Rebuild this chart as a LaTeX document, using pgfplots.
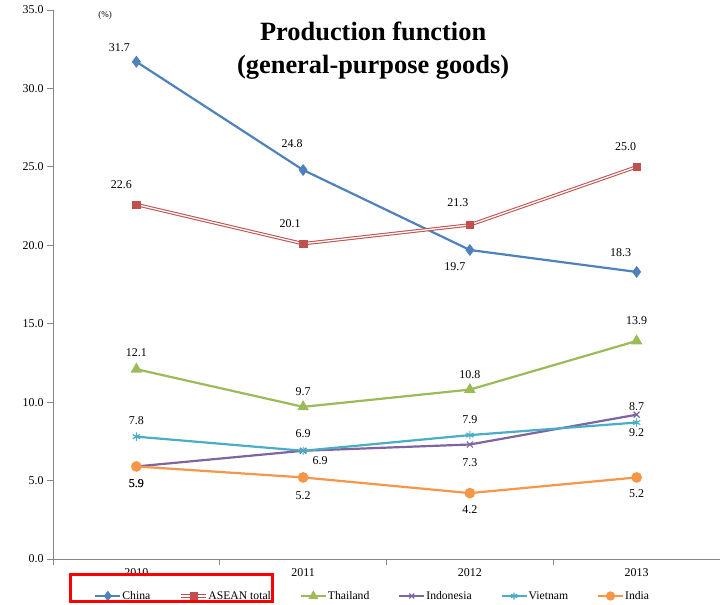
\documentclass[border=0pt]{standalone}
\usepackage{fontspec}
\setmainfont{Liberation Serif}
\usepackage{pgfplots}
\pgfplotsset{compat=1.18}
\definecolor{chinaC}{HTML}{4F81BD}
\definecolor{aseanC}{HTML}{C0504D}
\definecolor{thaiC}{HTML}{9BBB59}
\definecolor{indoC}{HTML}{8064A2}
\definecolor{vietC}{HTML}{4BACC6}
\definecolor{indiaC}{HTML}{F79646}
\definecolor{axisC}{HTML}{868686}
\pgfplotsset{
  lab/.style={
    nodes near coords,
    point meta=explicit symbolic,
    visualization depends on={\thisrow{dx} \as \labdx},
    visualization depends on={\thisrow{dy} \as \labdy},
    every node near coord/.append style={anchor=center, text=black,
      font=\fontsize{12}{14}\selectfont, xshift=\labdx bp, yshift=\labdy bp, inner sep=0pt},
  },
}
\begin{document}
\begin{tikzpicture}
\begin{axis}[
  scale only axis, width=667bp, height=549bp,
  xmin=-0.5, xmax=3.5, ymin=0, ymax=35,
  xtick={-0.5,0.5,1.5,2.5,3.5},
  x tick label as interval,
  xticklabels={2010,2011,2012,2013},
  ytick={0,5,...,35},
  yticklabel style={/pgf/number format/.cd, fixed, fixed zerofill, precision=1, assume math mode=true},
  tick label style={font=\fontsize{12}{14}\selectfont},
  axis x line*=bottom, axis y line*=left,
  axis line style={-, draw=axisC, line width=0.8bp},
  tick style={draw=axisC, line width=0.8bp},
  tick align=outside, major tick length=6bp,
  title={Production function\\(general-purpose goods)},
  title style={font=\bfseries\fontsize{26.5}{33}\selectfont, align=center,
    at={(axis description cs:0.48,0.9154)}, anchor=center},
  clip=false,
  legend columns=-1,
  legend image code/.code={\draw[mark repeat=2,mark phase=2] plot coordinates {(0bp,0bp) (12.5bp,0bp) (25bp,0bp)};},
  legend style={at={(axis description cs:0.0615,-0.0674)}, anchor=west, draw=none, fill=none,
    inner sep=0pt, font=\fontsize{11.7}{14}\selectfont,
    /tikz/every even column/.append style={column sep=27.8bp},
    nodes={inner sep=1bp}},
]
% China
\addplot[chinaC, line width=2.2bp, mark=diamond*, mark size=4.2bp, mark options={solid, fill=chinaC}, forget plot, lab]
  table[meta=lab, row sep=\\]{x y lab dx dy\\ 0 31.7 31.7 -17 14\\ 1 24.8 24.8 -11 26\\ 2 19.7 19.7 -15 -17\\ 3 18.3 18.3 -16 19\\};
% ASEAN total (double line)
\addplot[aseanC, line width=3.4bp, forget plot] coordinates {(0,22.6) (1,20.1) (2,21.3) (3,25.0)};
\addplot[white, line width=1.3bp, forget plot] coordinates {(0,22.6) (1,20.1) (2,21.3) (3,25.0)};
\addplot[aseanC, only marks, mark=square*, mark size=3.8bp, mark options={solid, fill=aseanC}, forget plot, lab]
  table[meta=lab, row sep=\\]{x y lab dx dy\\ 0 22.6 22.6 -15 20\\ 1 20.1 20.1 -13 20\\ 2 21.3 21.3 -12 22\\ 3 25.0 25.0 -11 20\\};
% Thailand
\addplot[thaiC, line width=2.2bp, mark=triangle*, mark size=4.5bp, mark options={solid, fill=thaiC}, forget plot, lab]
  table[meta=lab, row sep=\\]{x y lab dx dy\\ 0 12.1 12.1 0 17\\ 1 9.7 9.7 0 15\\ 2 10.8 10.8 0 15\\ 3 13.9 13.9 0 20\\};
% Indonesia
\addplot[indoC, line width=2.2bp, mark=x, mark size=4.2bp, mark options={solid, line width=1.2bp}, forget plot, lab]
  table[meta=lab, row sep=\\]{x y lab dx dy\\ 0 5.9 5.9 0 -17\\ 1 6.9 6.9 17 -10\\ 2 7.3 7.3 0 -18\\ 3 9.2 9.2 0 -18\\};
% Vietnam
\addplot[vietC, line width=2.2bp, mark=asterisk, mark size=4.2bp, mark options={solid, line width=1.2bp}, forget plot, lab]
  table[meta=lab, row sep=\\]{x y lab dx dy\\ 0 7.8 7.8 0 16\\ 1 6.9 6.9 0 17\\ 2 7.9 7.9 0 15\\ 3 8.7 8.7 0 16\\};
% India
\addplot[indiaC, line width=2.2bp, mark=*, mark size=4.2bp, mark options={solid, fill=indiaC}, forget plot, lab]
  table[meta=lab, row sep=\\]{x y lab dx dy\\ 0 5.9 5.9 0 -17\\ 1 5.2 5.2 0 -18\\ 2 4.2 4.2 0 -17\\ 3 5.2 5.2 0 -16\\};
% legend
\addlegendimage{chinaC, line width=2.2bp, mark=diamond*, mark size=3.5bp, mark options={solid, fill=chinaC}}
\addlegendentry{China}
\addlegendimage{legend image code/.code={
  \draw[aseanC, line width=3.4bp] (0bp,0bp) -- (25bp,0bp);
  \draw[white, line width=1.3bp] (0bp,0bp) -- (25bp,0bp);
  \fill[aseanC] (9bp,-3.5bp) rectangle (16bp,3.5bp);}}
\addlegendentry{ASEAN total}
\addlegendimage{thaiC, line width=2.2bp, mark=triangle*, mark size=3.5bp, mark options={solid, fill=thaiC}}
\addlegendentry{Thailand}
\addlegendimage{indoC, line width=2.2bp, mark=x, mark size=3.5bp, mark options={solid, line width=1.2bp}}
\addlegendentry{Indonesia}
\addlegendimage{vietC, line width=2.2bp, mark=asterisk, mark size=3.5bp, mark options={solid, line width=1.2bp}}
\addlegendentry{Vietnam}
\addlegendimage{indiaC, line width=2.2bp, mark=*, mark size=3.5bp, mark options={solid, fill=indiaC}}
\addlegendentry{India}
\node[font=\fontsize{9}{10}\selectfont] at (axis description cs:0.078,0.991) {(\%)};
\end{axis}
\draw[red, line width=3bp] (17bp,-15bp) rectangle (219bp,-42bp);
\pgfresetboundingbox
\path[use as bounding box] (-53bp,-46bp) rectangle (667bp,559bp);
\end{tikzpicture}
\end{document}
